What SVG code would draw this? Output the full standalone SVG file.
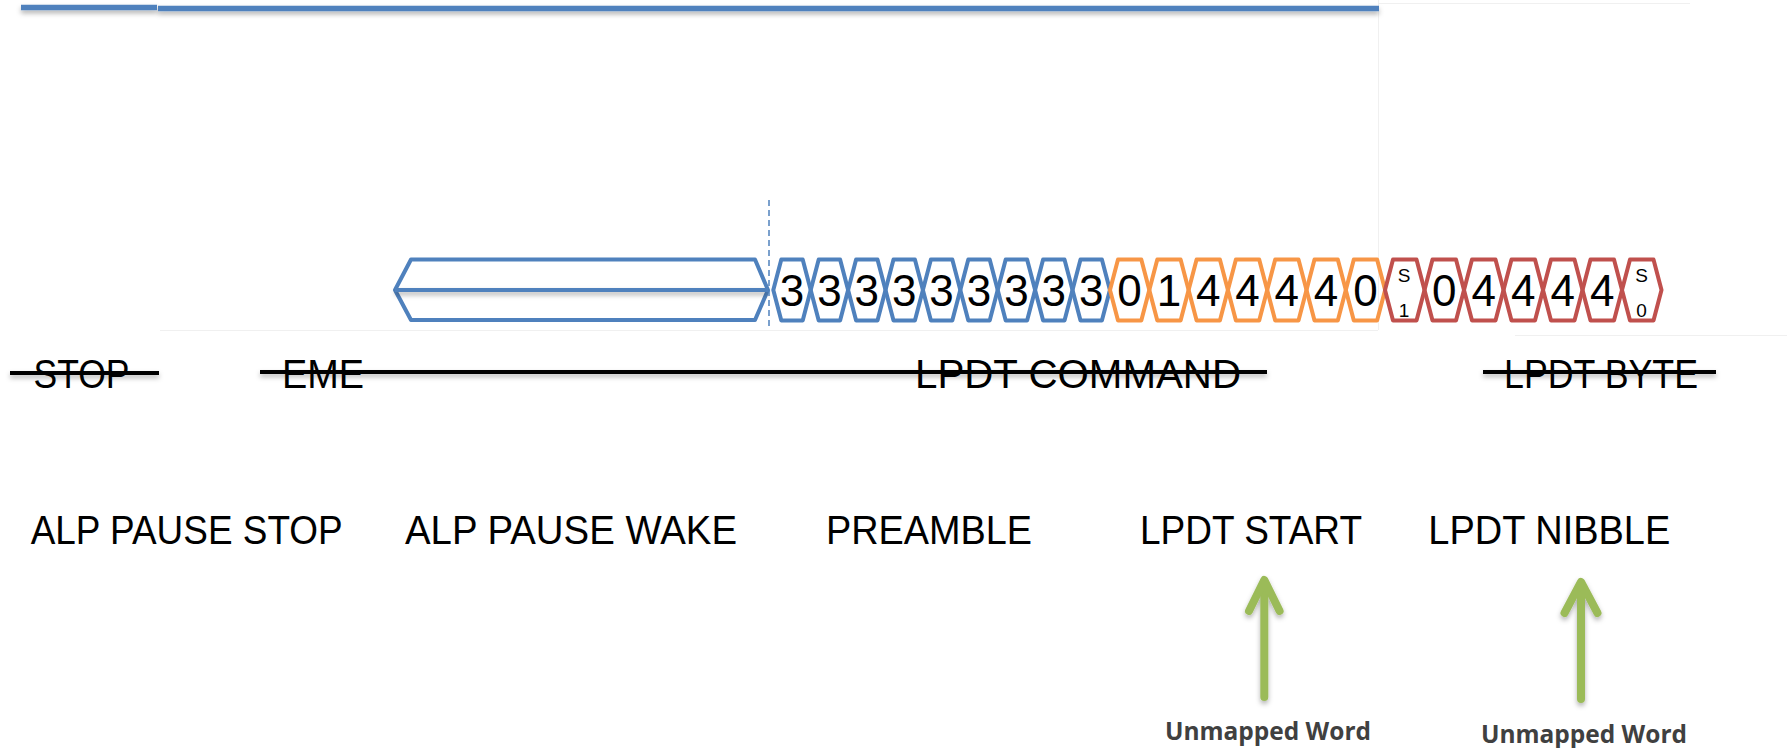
<svg xmlns="http://www.w3.org/2000/svg" width="1787" height="748" viewBox="0 0 1787 748">
  <style>
    .bg { fill: #ffffff; }
    .edge { stroke: #f0f0f0; stroke-width: 1; fill: none; }
    .bar { stroke: #4F81BD; stroke-width: 5.5; fill: none; }
    .hexB { stroke: #4F81BD; stroke-width: 4; fill: none; stroke-linejoin: round; }
    .hexO { stroke: #F79646; stroke-width: 4; fill: none; stroke-linejoin: round; }
    .hexR { stroke: #C0504D; stroke-width: 4; fill: none; stroke-linejoin: round; }
    .dash { stroke: #4F81BD; stroke-width: 1.5; stroke-dasharray: 6 4; fill: none; }
    .dig { font-family: "Liberation Sans", Arial, sans-serif; font-size: 44px; fill: #000; text-anchor: middle; }
    .sm { font-family: "Liberation Sans", Arial, sans-serif; font-size: 19px; fill: #000; text-anchor: middle; }
    .lbl { font-family: "Liberation Sans", Arial, sans-serif; font-size: 40px; fill: #000; }
    .strike { stroke: #000; stroke-width: 4; fill: none; }
    .arrow { stroke: #9BBB59; stroke-width: 8; fill: none; stroke-linecap: round; stroke-linejoin: round; }
    .note { font-family: "Open Sans", "Liberation Sans", sans-serif; font-weight: bold; font-size: 25px; fill: #404040; }
  </style>
  <defs>
    <filter id="shadow" filterUnits="userSpaceOnUse" x="0" y="0" width="1787" height="748">
      <feDropShadow dx="0" dy="3" stdDeviation="2.5" flood-color="#000" flood-opacity="0.3"/>
    </filter>
    <polygon id="cellB" points="0,290 8,259.5 29.4,259.5 37.4,290 29.4,320.5 8,320.5"/>
    <polygon id="cellO" points="0,290 8,259.5 31.3,259.5 39.3,290 31.3,320.5 8,320.5"/>
    <polygon id="cellR" points="0,290 8,259.5 31.5,259.5 39.5,290 31.5,320.5 8,320.5"/>
  </defs>

  <rect class="bg" x="0" y="0" width="1787" height="748"/>

  <!-- faint frame edges of the pasted timing picture -->
  <g id="frame">
    <line class="edge" x1="1378.5" y1="0" x2="1378.5" y2="330"/>
    <line class="edge" x1="160" y1="330.5" x2="1378" y2="330.5"/>
    <line class="edge" x1="1515" y1="335.5" x2="1787" y2="335.5"/>
    <line class="edge" x1="1378" y1="3.5" x2="1690" y2="3.5"/>
  </g>

  <!-- top bus bars -->
  <g id="bus" filter="url(#shadow)">
    <line class="bar" x1="21" y1="7.5" x2="157" y2="7.5"/>
    <line class="bar" x1="158" y1="8.5" x2="1379" y2="8.5"/>
  </g>

  <!-- long idle segment -->
  <g id="idle">
    <polygon class="hexB" points="395,290 411,259.5 755,259.5 768,290 755,320 411,320"/>
    <line class="hexB" x1="395" y1="290" x2="768" y2="290" filter="url(#shadow)"/>
    <line class="dash" x1="769" y1="200" x2="769" y2="328"/>
  </g>

  <!-- preamble nibbles -->
  <g id="preamble">
    <use href="#cellB" class="hexB" x="773.3"/>
    <use href="#cellB" class="hexB" x="810.7"/>
    <use href="#cellB" class="hexB" x="848.1"/>
    <use href="#cellB" class="hexB" x="885.5"/>
    <use href="#cellB" class="hexB" x="922.9"/>
    <use href="#cellB" class="hexB" x="960.3"/>
    <use href="#cellB" class="hexB" x="997.7"/>
    <use href="#cellB" class="hexB" x="1035.1"/>
    <use href="#cellB" class="hexB" x="1072.5"/>
    <text class="dig" x="792" y="306">3</text>
    <text class="dig" x="829.4" y="306">3</text>
    <text class="dig" x="866.8" y="306">3</text>
    <text class="dig" x="904.2" y="306">3</text>
    <text class="dig" x="941.6" y="306">3</text>
    <text class="dig" x="979" y="306">3</text>
    <text class="dig" x="1016.4" y="306">3</text>
    <text class="dig" x="1053.8" y="306">3</text>
    <text class="dig" x="1091.2" y="306">3</text>
  </g>

  <!-- LPDT start nibbles -->
  <g id="lpdt-start">
    <use href="#cellO" class="hexO" x="1110"/>
    <use href="#cellO" class="hexO" x="1149.3"/>
    <use href="#cellO" class="hexO" x="1188.6"/>
    <use href="#cellO" class="hexO" x="1227.9"/>
    <use href="#cellO" class="hexO" x="1267.2"/>
    <use href="#cellO" class="hexO" x="1306.5"/>
    <use href="#cellO" class="hexO" x="1345.8"/>
    <text class="dig" x="1129.6" y="306">0</text>
    <text class="dig" x="1168.9" y="306">1</text>
    <text class="dig" x="1208.2" y="306">4</text>
    <text class="dig" x="1247.5" y="306">4</text>
    <text class="dig" x="1286.8" y="306">4</text>
    <text class="dig" x="1326.1" y="306">4</text>
    <text class="dig" x="1365.4" y="306">0</text>
  </g>

  <!-- LPDT byte nibbles -->
  <g id="lpdt-byte">
    <use href="#cellR" class="hexR" x="1385"/>
    <use href="#cellR" class="hexR" x="1424.5"/>
    <use href="#cellR" class="hexR" x="1464"/>
    <use href="#cellR" class="hexR" x="1503.5"/>
    <use href="#cellR" class="hexR" x="1543"/>
    <use href="#cellR" class="hexR" x="1582.5"/>
    <use href="#cellR" class="hexR" x="1622"/>
    <text class="sm" x="1404" y="282">S</text>
    <text class="sm" x="1404" y="316.5">1</text>
    <text class="dig" x="1444.2" y="306">0</text>
    <text class="dig" x="1483.7" y="306">4</text>
    <text class="dig" x="1523.2" y="306">4</text>
    <text class="dig" x="1562.7" y="306">4</text>
    <text class="dig" x="1602.2" y="306">4</text>
    <text class="sm" x="1641.5" y="282">S</text>
    <text class="sm" x="1641.5" y="316.5">0</text>
  </g>

  <!-- struck-through state names -->
  <g id="states">
    <text class="lbl" x="33.5" y="388" textLength="96" lengthAdjust="spacingAndGlyphs">STOP</text>
    <text class="lbl" x="282" y="388" textLength="82" lengthAdjust="spacingAndGlyphs">EME</text>
    <text class="lbl" x="915" y="388" textLength="326" lengthAdjust="spacingAndGlyphs">LPDT COMMAND</text>
    <text class="lbl" x="1504" y="388" textLength="194" lengthAdjust="spacingAndGlyphs">LPDT BYTE</text>
    <g filter="url(#shadow)">
      <line class="strike" x1="10" y1="373" x2="159" y2="373"/>
      <line class="strike" x1="260" y1="372" x2="1267" y2="372"/>
      <line class="strike" x1="1483" y1="372" x2="1716" y2="372"/>
    </g>
  </g>

  <!-- phase names -->
  <g id="phases">
    <text class="lbl" x="30.7" y="544" textLength="312" lengthAdjust="spacingAndGlyphs">ALP PAUSE STOP</text>
    <text class="lbl" x="405" y="544" textLength="332" lengthAdjust="spacingAndGlyphs">ALP PAUSE WAKE</text>
    <text class="lbl" x="826" y="544" textLength="206" lengthAdjust="spacingAndGlyphs">PREAMBLE</text>
    <text class="lbl" x="1140" y="544" textLength="222" lengthAdjust="spacingAndGlyphs">LPDT START</text>
    <text class="lbl" x="1428.3" y="544" textLength="242" lengthAdjust="spacingAndGlyphs">LPDT NIBBLE</text>
  </g>

  <!-- pointers -->
  <g id="connectors" filter="url(#shadow)">
    <line class="arrow" x1="1264.3" y1="697" x2="1264.3" y2="582"/>
    <polyline class="arrow" points="1249,611 1264.3,580 1279.6,611"/>
    <line class="arrow" x1="1581" y1="699" x2="1581" y2="584"/>
    <polyline class="arrow" points="1564.5,613 1581,582 1597.5,613"/>
  </g>

  <g id="note-start">
    <text class="note" x="1165" y="740" textLength="206" lengthAdjust="spacingAndGlyphs">Unmapped Word</text>
  </g>
  <g id="note-nibble">
    <text class="note" x="1481" y="742.5" textLength="206" lengthAdjust="spacingAndGlyphs">Unmapped Word</text>
  </g>
</svg>
